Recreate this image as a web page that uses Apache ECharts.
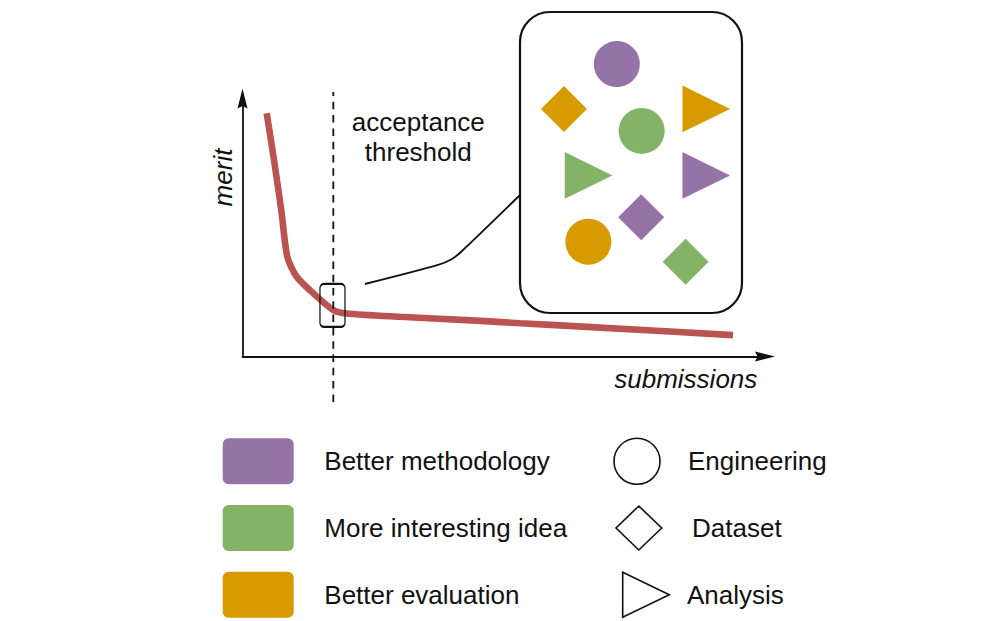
<!DOCTYPE html>
<html>
<head>
<meta charset="utf-8">
<script src="https://cdn.jsdelivr.net/npm/echarts@6.0.0/dist/echarts.min.js"></script>
<style>
html,body{margin:0;padding:0;background:#ffffff;}
#chart{width:1000px;height:621px;}
</style>
</head>
<body>
<div id="chart"></div>
<script>
// ---------------- DATA ----------------
// merit-vs-submissions curve (axis units 0..100)
const curveX = [4.63, 6.22, 7.50, 8.57, 10.37, 13.55, 17.38, 19.94, 30.14, 42.91, 53.11, 68.42, 93.88];
const curveY = [94.3, 73.6, 55.5, 38.7, 30.9, 24.5, 18.0, 16.7, 15.4, 14.1, 12.9, 11.2, 8.3];
// acceptance threshold (vertical dashed line)
const thresholdX = 17.38;
const thresholdYRange = [-17.6, 102.5];
// highlighted point at threshold
const zoomPoint = [17.22, 19.8];
// connector from highlighted point to zoom panel
const connectorX = [23.44, 37.42, 40.10, 42.01, 53.11];
const connectorY = [28.1, 35.5, 37.8, 40.9, 62.6];

// legend categories
const colorCategories = ['Better methodology', 'More interesting idea', 'Better evaluation'];
const shapeCategories = ['Engineering', 'Dataset', 'Analysis'];

// submissions shown in the zoom panel (panel units 0..100): [x, y, shape]
const methodologyPoints = [[43.6, 82.7, 'Engineering'], [83.9, 45.7, 'Analysis'], [54.6, 31.8, 'Dataset']];
const ideaPoints        = [[54.8, 60.5, 'Engineering'], [30.9, 45.7, 'Analysis'], [74.6, 17.0, 'Dataset']];
const evaluationPoints  = [[19.8, 67.8, 'Dataset'], [83.9, 67.8, 'Analysis'], [30.8, 23.7, 'Engineering']];
const pointsByColor = [methodologyPoints, ideaPoints, evaluationPoints];

// ---------------- STYLE ----------------
const FONT = '"Liberation Sans", Arial, Helvetica, sans-serif';
const INK = '#111111';
const CURVE = '#bb5450';
const palette = ['#9673a6', '#82b366', '#d79b00'];
const shapeSymbol = { Engineering: 'circle', Dataset: 'diamond', Analysis: 'triangle' };
const shapeSize = { Engineering: [46, 46], Dataset: [46, 46], Analysis: [46.7, 47.7] };
const shapeRotate = { Engineering: 0, Dataset: 0, Analysis: -90 };
const shapeIcons = [
  'path://M0,0M56,46M0,23A23,23 0 1 1 46,23A23,23 0 1 1 0,23Z',
  'path://M0,0M56,46M24.8,1L47.7,23L24.8,45L2,23Z',
  'path://M0,0M56,46M8.7,0.5L55.3,23L8.7,45.5Z'
];
const shapeTextPad = [13, 17, 12];
const ARROW = 'path://M5,0L10,20L5,17.5L0,20Z';

function toItems(points) {
  return points.map(p => ({
    value: [p[0], p[1]],
    name: p[2],
    symbol: shapeSymbol[p[2]],
    symbolSize: shapeSize[p[2]],
    symbolRotate: shapeRotate[p[2]]
  }));
}

const chart = echarts.init(document.getElementById('chart'), null, { renderer: 'svg' });

const hiddenAxis = { type: 'value', min: 0, max: 100, show: false };
const mainAxisCommon = {
  type: 'value', min: 0, max: 100,
  axisLine: { show: true, onZero: false, symbol: ['none', ARROW], symbolSize: [10.5, 20],
              lineStyle: { color: INK, width: 1.8 } },
  axisTick: { show: false }, axisLabel: { show: false }, splitLine: { show: false }
};

const textBase = { fontFamily: FONT, fontSize: 26, fill: INK, align: 'center', verticalAlign: 'middle' };

const option = {
  backgroundColor: '#ffffff',
  animation: false,
  grid: [
    { left: 242.5, top: 98.5, width: 522.5, height: 258, outerBoundsMode: 'none' },
    { left: 520, top: 12, width: 222, height: 301, outerBoundsMode: 'none' }
  ],
  xAxis: [
    Object.assign({ gridIndex: 0 }, mainAxisCommon),
    Object.assign({ gridIndex: 1 }, hiddenAxis)
  ],
  yAxis: [
    Object.assign({ gridIndex: 0 }, mainAxisCommon),
    Object.assign({ gridIndex: 1 }, hiddenAxis)
  ],
  legend: [
    {
      orient: 'vertical', left: 222.7, top: 438.3, width: 400, height: 200, padding: 0,
      itemWidth: 71, itemHeight: 46, itemGap: 20.7, selectedMode: false,
      icon: 'path://M6,0H65A6,6 0 0 1 71,6V40A6,6 0 0 1 65,46H6A6,6 0 0 1 0,40V6A6,6 0 0 1 6,0Z',
      data: colorCategories,
      itemStyle: { borderWidth: 0, opacity: 1 },
      textStyle: { fontFamily: FONT, fontSize: 26, color: INK, padding: [0, 0, 0, 25.6] }
    },
    {
      orient: 'vertical', left: 613.2, top: 437.5, width: 300, height: 200, padding: 0,
      itemWidth: 56, itemHeight: 46, itemGap: 19.1, selectedMode: false,
      data: shapeCategories.map((n, i) => ({ name: n, icon: shapeIcons[i],
        textStyle: { padding: [0, 0, 0, shapeTextPad[i]] } })),
      itemStyle: { color: 'rgba(0,0,0,0)', borderColor: INK, borderWidth: 1.6, opacity: 1 },
      textStyle: { fontFamily: FONT, fontSize: 26, color: INK }
    }
  ],
  graphic: [
    { type: 'rect', z: 1, shape: { x: 520, y: 12, width: 222, height: 301, r: 30 },
      style: { fill: 'none', stroke: INK, lineWidth: 2.2 } },
    { type: 'text', x: 418.3, y: 121.7, style: Object.assign({ text: 'acceptance' }, textBase) },
    { type: 'text', x: 418.3, y: 152, style: Object.assign({ text: 'threshold' }, textBase) },
    { type: 'text', x: 222.7, y: 177.5, rotation: Math.PI / 2,
      style: Object.assign({ text: 'merit', fontStyle: 'italic' }, textBase) },
    { type: 'text', x: 685.8, y: 379.3,
      style: Object.assign({ text: 'submissions', fontStyle: 'italic' }, textBase) }
  ],
  series: [
    {
      name: 'merit curve', type: 'line', xAxisIndex: 0, yAxisIndex: 0,
      data: curveX.map((x, i) => [x, curveY[i]]),
      smooth: 0.25, showSymbol: false, silent: true, z: 2,
      lineStyle: { color: CURVE, width: 6.6 }
    },
    {
      name: 'acceptance threshold', type: 'line', xAxisIndex: 0, yAxisIndex: 0,
      data: thresholdYRange.map(y => [thresholdX, y]),
      clip: false, showSymbol: false, silent: true, z: 3,
      lineStyle: { color: INK, width: 1.8, type: [7.5, 5.8] }
    },
    {
      name: 'connector', type: 'line', xAxisIndex: 0, yAxisIndex: 0,
      data: connectorX.map((x, i) => [x, connectorY[i]]),
      smooth: 0.3, showSymbol: false, silent: true, clip: false, z: 3,
      lineStyle: { color: INK, width: 1.9 }
    },
    {
      name: 'threshold point', type: 'scatter', xAxisIndex: 0, yAxisIndex: 0,
      data: [zoomPoint], silent: true, z: 4,
      symbol: 'path://M4,0H21A4,4 0 0 1 25,4V39A4,4 0 0 1 21,43H4A4,4 0 0 1 0,39V4A4,4 0 0 1 4,0Z',
      symbolSize: [25, 43],
      itemStyle: { color: 'rgba(0,0,0,0)', borderColor: INK, borderWidth: 1.6, opacity: 1 }
    }
  ].concat(colorCategories.map((name, i) => ({
    name: name, type: 'scatter', xAxisIndex: 1, yAxisIndex: 1,
    data: toItems(pointsByColor[i]), silent: true, z: 3,
    itemStyle: { color: palette[i], opacity: 1 }
  }))).concat(shapeCategories.map(name => ({
    name: name, type: 'scatter', xAxisIndex: 1, yAxisIndex: 1,
    data: [], silent: true,
    itemStyle: { color: 'rgba(0,0,0,0)', borderColor: INK, borderWidth: 1.6, opacity: 1 }
  })))
};

chart.setOption(option);
</script>
</body>
</html>
